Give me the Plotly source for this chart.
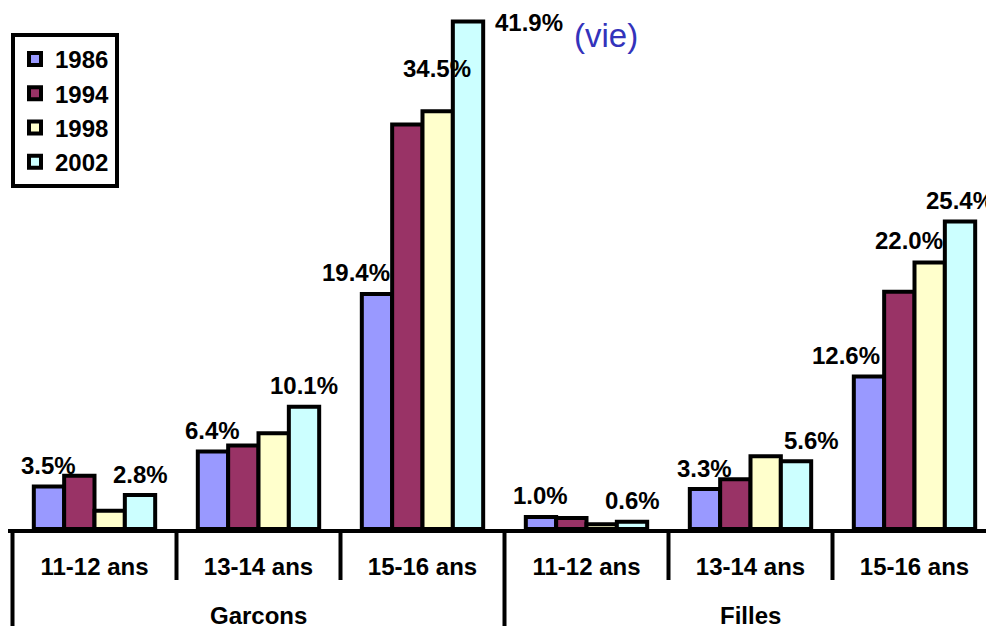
import plotly.graph_objects as go

# ---- data ----
groups = ["Garcons", "Filles"]
ages = ["11-12 ans", "13-14 ans", "15-16 ans", "11-12 ans", "13-14 ans", "15-16 ans"]
years = ["1986", "1994", "1998", "2002"]
v1986 = [3.5, 6.4, 19.4, 1.0, 3.3, 12.6]
v1994 = [4.4, 6.9, 33.4, 0.9, 4.1, 19.6]
v1998 = [1.5, 7.9, 34.5, 0.4, 6.0, 22.0]
v2002 = [2.8, 10.1, 41.9, 0.6, 5.6, 25.4]
series = [v1986, v1994, v1998, v2002]
# labelled bars: (series index, category index)
labelled = [(0, 0), (3, 0), (0, 1), (3, 1), (0, 2), (2, 2), (3, 2),
            (0, 3), (3, 3), (0, 4), (3, 4), (0, 5), (2, 5), (3, 5)]
note = "(vie)"

# ---- style ----
colors = ["#9999FF", "#993366", "#FFFFCC", "#CCFFFF"]
label_shift = {(0, 2): (-21, 22), (2, 2): (-1, 43), (3, 2): (61, -1),
               (3, 4): (15, 21), (0, 5): (-23, 21), (2, 5): (-21, 22)}
FONT = "Arial, Liberation Sans, sans-serif"
FS = 24
bargap = 0.26
W, H = 986, 626
ML, MB, MT = 8, 97, 0
px_per_cat = 164
x0 = -0.5 - 4.5 / px_per_cat
x1 = x0 + (W - ML) / px_per_cat
ymax = (H - MB - MT) / 12.11

xs = list(range(len(ages)))
fig = go.Figure()
for name, vals, col in zip(years, series, colors):
    fig.add_trace(go.Bar(
        x=xs, y=vals, name=name,
        marker=dict(color=col, line=dict(color="black", width=4)),
        cliponaxis=False,
    ))

bw = (1 - bargap) / len(series)
annotations = []
for (s, c) in labelled:
    xsft, ysft = label_shift.get((s, c), (0, 21))
    annotations.append(dict(
        x=c + (s - 1.5) * bw, y=series[s][c], xref="x", yref="y",
        text=f"{series[s][c]:.1f}%", showarrow=False,
        xanchor="center", yanchor="middle", xshift=xsft, yshift=ysft,
        font=dict(family=FONT, size=FS, color="black", weight="bold"),
    ))
# group labels
for gi, g in enumerate(groups):
    annotations.append(dict(
        x=1 + 3 * gi, y=-86 / (H - MB - MT), xref="x", yref="paper",
        text=g, showarrow=False, xanchor="center", yanchor="middle",
        font=dict(family=FONT, size=FS, color="black", weight="bold"),
    ))
annotations.append(dict(
    x=(606 - ML) / (W - ML), y=1 - 36 / (H - MB - MT), xref="paper", yref="paper",
    text=note, showarrow=False, xanchor="center", yanchor="middle",
    font=dict(family=FONT, size=33, color="#3333BB"),
))

shapes = []
ph = H - MB - MT
for b in [-0.5, 0.5, 1.5, 2.5, 3.5, 4.5, 5.5]:
    outer = b in (-0.5, 2.5, 5.5)
    shapes.append(dict(
        type="line", xref="x", yref="paper", x0=b, x1=b, y0=0,
        y1=-(H - MB + 5) / ph if outer else -51 / ph,
        line=dict(color="black", width=4),
    ))

fig.update_layout(
    width=W, height=H,
    margin=dict(l=ML, r=0, t=MT, b=MB),
    paper_bgcolor="white", plot_bgcolor="white",
    barmode="group", bargap=bargap, bargroupgap=0,
    showlegend=True,
    legend=dict(
        x=(11 - ML) / (W - ML), y=1 - 33 / ph, xanchor="left", yanchor="top",
        bordercolor="black", borderwidth=4, bgcolor="white",
        font=dict(family=FONT, size=FS, color="black", weight="bold"),
        itemwidth=30, tracegroupgap=0,
    ),
    xaxis=dict(
        range=[x0, x1], tickvals=xs, ticktext=ages, ticks="",
        showline=True, linecolor="black", linewidth=4, showgrid=False,
        zeroline=False, ticklabelstandoff=13,
        tickfont=dict(family=FONT, size=FS, color="black", weight="bold"),
    ),
    yaxis=dict(range=[0, ymax], visible=False, showgrid=False, zeroline=False),
    annotations=annotations, shapes=shapes,
)
fig.write_html("out.html")
